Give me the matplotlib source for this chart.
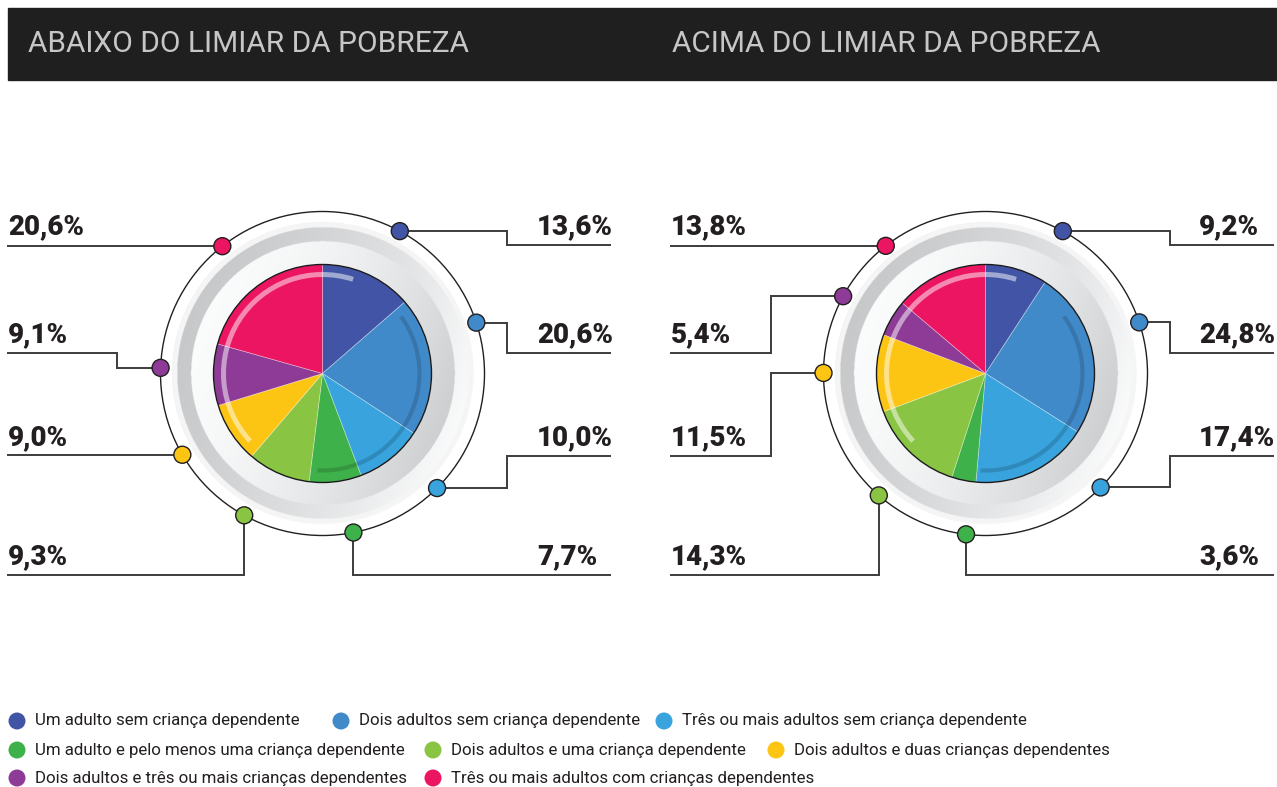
"""
Household composition below / above the poverty line: two decorated pies.
"""
import matplotlib
matplotlib.use('Agg')
import matplotlib.pyplot as plt
from matplotlib import font_manager as fm
from matplotlib.patches import Circle, Arc, Rectangle
import numpy as np

W, H = 1277, 787

titles = ['ABAIXO DO LIMIAR DA POBREZA', 'ACIMA DO LIMIAR DA POBREZA']
categories = [
    'Um adulto sem criança dependente',
    'Dois adultos sem criança dependente',
    'Três ou mais adultos sem criança dependente',
    'Um adulto e pelo menos uma criança dependente',
    'Dois adultos e uma criança dependente',
    'Dois adultos e duas crianças dependentes',
    'Dois adultos e três ou mais crianças dependentes',
    'Três ou mais adultos com crianças dependentes',
]
colors = ['#4254a5', '#418ac9', '#38a3dc', '#3fb14b',
          '#89c442', '#fdc513', '#8e3b97', '#ec1562']
below = [13.6, 20.6, 10.0, 7.7, 9.3, 9.0, 9.1, 20.6]
above = [9.2, 24.8, 17.4, 3.6, 14.3, 11.5, 5.4, 13.8]


def pick(fams):
    for f in fams:
        try:
            fm.findfont(fm.FontProperties(family=f), fallback_to_default=False)
            return f
        except ValueError:
            pass
    return 'DejaVu Sans'


TEXT_FONT = pick(['Roboto', 'Liberation Sans'])

# layout (pixel coords, y down)
ROWS = [245, 353, 456, 575]
R_PIE, R_RING_IN, R_RING_OUT, R_OUTER = 109, 132, 146, 162
CHARTS = [
    dict(values=below, title_x=28, cx=322.5, cy=373.5,
         left_x=8, right_end=610, label_r=537,
         angles=[28.5, 71.7, 135, 169, 208.9, 239.9, 272, 321.8],
         routes=[('h', 0, 507), ('h', 1, 507), ('h', 2, 507), ('v', 3, None),
                 ('v', 3, None), ('d', 2, None), ('h', 1, 117), ('d', 0, None)]),
    dict(values=above, title_x=672, cx=985.5, cy=373.5,
         left_x=671, right_end=1273, label_r=1199,
         angles=[28.5, 71.6, 134.7, 186.9, 221.2, 270.2, 298.5, 322],
         routes=[('h', 0, 1170), ('h', 1, 1170), ('h', 2, 1170), ('v', 3, None),
                 ('v', 3, None), ('h', 2, 771), ('h', 1, 771), ('d', 0, None)]),
]
LEGEND_POS = [(17, 721), (341, 721), (664, 721),
              (17, 750), (433, 750), (776, 750),
              (17, 778), (433, 778)]

LINE_C = '#3c3c3c'
INK = '#231f20'


def Y(y):
    return H - y


def fmt(v):
    return f'{v:.1f}%'.replace('.', ',')


def ring_image(ax, cx, cy):
    half = R_RING_OUT + 8
    n = 700
    u = np.linspace(-half, half, n)
    uu, vv = np.meshgrid(u, u[::-1])
    r = np.hypot(uu, vv)
    a = np.deg2rad(-20)
    t = (uu * np.cos(a) + vv * np.sin(a)) / half
    t = np.clip((t + 1) / 2, 0, 1)
    dark = np.array([0.78, 0.785, 0.79])
    light = np.array([0.985, 0.988, 0.99])
    img = np.zeros((n, n, 4))
    inner = (r >= R_PIE - 2) & (r < R_RING_IN)
    outer = (r >= R_RING_IN) & (r <= R_RING_OUT)
    halo = (r > R_RING_OUT) & (r <= R_RING_OUT + 5)
    ti = t[..., None]
    c_in = light + (dark - light) * ti ** 1.8
    c_out = dark + (light - dark) * ti ** 1.4
    img[..., :3] = np.where(inner[..., None], c_in, c_out)
    img[..., 3] = (inner | outer).astype(float)
    img[halo, :3] = 0.95
    img[halo, 3] = 0.7
    ax.imshow(img, extent=(cx - half, cx + half, Y(cy) - half, Y(cy) + half),
              interpolation='bilinear', zorder=1)


def draw_chart(ax, ch):
    cx, cy = ch['cx'], ch['cy']
    vals = ch['values']

    ring_image(ax, cx, cy)
    ax.add_patch(Circle((cx, Y(cy)), R_OUTER, fill=False, ec=INK, lw=1.0, zorder=1))

    wedges, _ = ax.pie(vals, colors=colors, startangle=90, counterclock=False,
                       center=(cx, Y(cy)), radius=R_PIE,
                       wedgeprops=dict(linewidth=0.6, edgecolor=(1, 1, 1, 0.35)))
    for w in wedges:
        w.set_zorder(2)
    ax.add_patch(Circle((cx, Y(cy)), R_PIE, fill=False, ec='#1a1a1a', lw=1.0, zorder=3))
    # glossy highlights
    ax.add_patch(Arc((cx, Y(cy)), 2 * 99, 2 * 99, theta1=72, theta2=223,
                     color='white', alpha=0.5, lw=3.6, zorder=4))
    ax.add_patch(Arc((cx, Y(cy)), 2 * 97, 2 * 97, theta1=-93, theta2=36,
                     color='black', alpha=0.15, lw=3.0, zorder=4))

    for i, (ang, route) in enumerate(zip(ch['angles'], ch['routes'])):
        th = np.deg2rad(ang)
        mx = cx + R_OUTER * np.sin(th)
        my = cy - R_OUTER * np.cos(th)
        kind, row, elbow = route
        ry = ROWS[row]
        right = i < 4
        end = ch['right_end'] if right else ch['left_x']
        if kind == 'h':
            pts = [(mx, my), (elbow, my), (elbow, ry), (end, ry)]
        elif kind == 'v':
            pts = [(mx, my), (mx, ry), (end, ry)]
        else:
            pts = [(mx, my), (end, my)]
        xs = [p[0] for p in pts]
        ys = [Y(p[1]) for p in pts]
        ax.plot(xs, ys, color=LINE_C, lw=1.4, zorder=1, solid_joinstyle='miter')
        ax.add_patch(Circle((mx, Y(my)), 8.5, fc=colors[i], ec=INK, lw=1.0, zorder=5))
        lx = ch['label_r'] if right else ch['left_x']
        ax.text(lx, Y(ry - 11), fmt(vals[i]), ha='left', va='baseline',
                fontsize=20, fontweight='heavy', color=INK, family=TEXT_FONT)


fig = plt.figure(figsize=(W / 100, H / 100), dpi=100)
ax = fig.add_axes([0, 0, 1, 1])

for ch in CHARTS:
    draw_chart(ax, ch)

# title bar
ax.add_patch(Rectangle((8, Y(80)), W - 8, 72, color='#201f1f', zorder=0))
for ch, title in zip(CHARTS, titles):
    ax.text(ch['title_x'], Y(52), title, ha='left', va='baseline', fontsize=21.5,
            fontweight='normal', color='#c6c6c6', family=TEXT_FONT)

# legend
for (lx, ly), lab, col in zip(LEGEND_POS, categories, colors):
    ax.add_patch(Circle((lx, Y(ly)), 8.5, fc=col, ec='none', zorder=5))
    ax.text(lx + 18, Y(ly), lab, ha='left', va='center', fontsize=12.2,
            color=INK, family=TEXT_FONT)

ax.set_xlim(0, W)
ax.set_ylim(0, H)
ax.set_aspect('auto')
ax.axis('off')

fig.savefig('out.png', dpi=100)
